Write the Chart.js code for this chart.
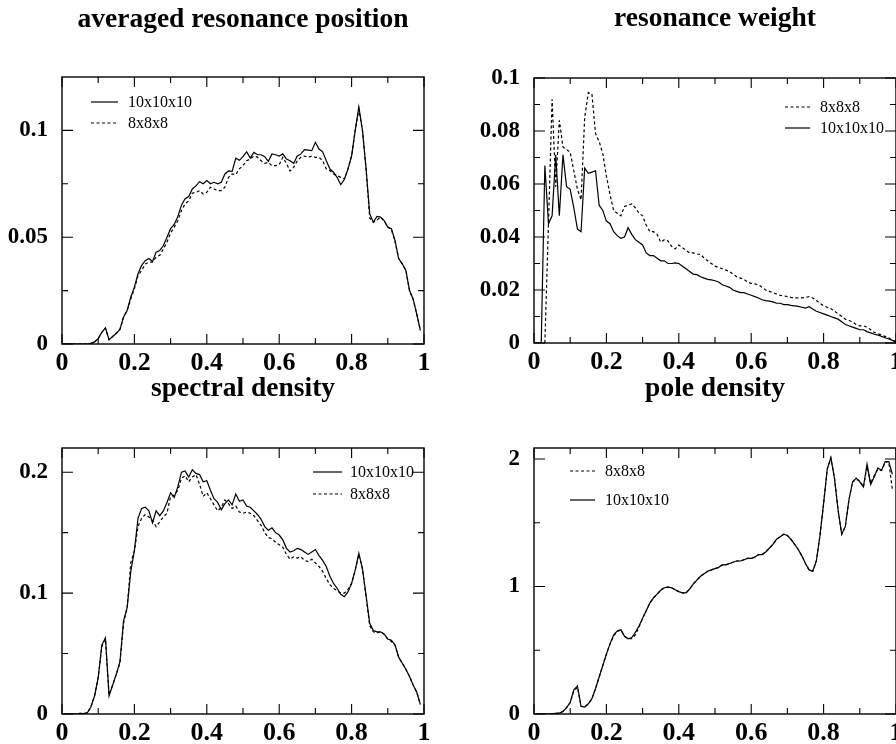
<!DOCTYPE html>
<html lang="en">
<head>
<meta charset="UTF-8">
<title>Resonance panels</title>
<script src="https://cdn.jsdelivr.net/npm/chart.js@4.4.1/dist/chart.umd.min.js"></script>
<style>
    html, body { margin: 0; padding: 0; background: #fff; }
    body { width: 896px; height: 744px; overflow: hidden; position: relative; }
    .panel { position: absolute; }
</style>
</head>
<body>
<div class="panel" style="left:0;top:0"><canvas id="c1" width="448" height="372"></canvas></div>
<div class="panel" style="left:448px;top:0"><canvas id="c2" width="460" height="372"></canvas></div>
<div class="panel" style="left:0;top:372px"><canvas id="c3" width="448" height="372"></canvas></div>
<div class="panel" style="left:448px;top:372px"><canvas id="c4" width="460" height="372"></canvas></div>

<script>
    // ---- data (x grid is 0, 0.01, ..., 1) ----
    const xs = [0,0.01,0.02,0.03,0.04,0.05,0.06,0.07,0.08,0.09,
        0.1,0.11,0.12,0.13,0.14,0.15,0.16,0.17,0.18,0.19,
        0.2,0.21,0.22,0.23,0.24,0.25,0.26,0.27,0.28,0.29,
        0.3,0.31,0.32,0.33,0.34,0.35,0.36,0.37,0.38,0.39,
        0.4,0.41,0.42,0.43,0.44,0.45,0.46,0.47,0.48,0.49,
        0.5,0.51,0.52,0.53,0.54,0.55,0.56,0.57,0.58,0.59,
        0.6,0.61,0.62,0.63,0.64,0.65,0.66,0.67,0.68,0.69,
        0.7,0.71,0.72,0.73,0.74,0.75,0.76,0.77,0.78,0.79,
        0.8,0.81,0.82,0.83,0.84,0.85,0.86,0.87,0.88,0.89,
        0.9,0.91,0.92,0.93,0.94,0.95,0.96,0.97,0.98,0.99,1];

    // averaged resonance position
    const pos10 = [0,0,0,0,0,0,0,0,0.0003,0.001,
        0.0025,0.0055,0.0075,0.002,0.0035,0.005,0.0068,0.0126,0.0157,0.022,
        0.0266,0.0329,0.0368,0.039,0.040,0.0386,0.043,0.0438,0.046,0.050,
        0.054,0.056,0.0597,0.065,0.068,0.069,0.0726,0.074,0.076,0.075,
        0.0765,0.075,0.0757,0.075,0.0757,0.0796,0.081,0.0808,0.087,0.086,
        0.0877,0.090,0.087,0.0897,0.0886,0.0886,0.0877,0.0855,0.089,0.0886,
        0.088,0.089,0.0866,0.0858,0.0846,0.088,0.089,0.091,0.0908,0.0905,
        0.0944,0.0913,0.090,0.0858,0.082,0.0804,0.078,0.0746,0.077,0.082,
        0.088,0.100,0.111,0.100,0.082,0.061,0.057,0.0597,0.0594,0.0578,
        0.0547,0.054,0.0484,0.040,0.0375,0.0344,0.025,0.021,0.014,0.0064,null];
    const pos8 = [0,0,0,0,0,0,0,0,0.0003,0.001,
        0.0025,0.0055,0.0075,0.002,0.0035,0.005,0.0068,0.0126,0.0157,0.021,
        0.026,0.032,0.0344,0.0375,0.0383,0.0383,0.0407,0.0415,0.0445,0.0477,
        0.052,0.0547,0.0578,0.0625,0.0656,0.067,0.0706,0.071,0.0718,0.0702,
        0.071,0.0734,0.0726,0.0718,0.0718,0.0734,0.078,0.0796,0.0793,0.082,
        0.0835,0.0858,0.0866,0.088,0.0875,0.0858,0.0846,0.085,0.0835,0.0835,
        0.084,0.0874,0.0846,0.081,0.0827,0.0858,0.0874,0.088,0.0874,0.088,
        0.0874,0.0874,0.0858,0.082,0.0812,0.0796,0.0788,0.078,0.0773,0.082,
        0.088,0.100,0.110,0.100,0.082,0.059,0.057,0.058,0.0594,0.0575,
        0.0547,0.0535,0.048,0.040,0.0375,0.0344,0.025,0.021,0.014,0.0064,null];

    // resonance weight
    const w8 = [0,0,0,0,0.045,0.092,0.059,0.084,0.074,0.073,
        0.072,0.065,0.058,0.054,0.085,0.0945,0.094,0.079,0.076,0.0715,
        0.063,0.056,0.050,0.049,0.048,0.0515,0.052,0.0525,0.051,0.049,
        0.048,0.0445,0.042,0.042,0.041,0.038,0.039,0.0385,0.0365,0.0355,
        0.037,0.036,0.035,0.034,0.034,0.0335,0.0335,0.032,0.031,0.030,
        0.029,0.0285,0.028,0.0275,0.027,0.026,0.025,0.0245,0.024,0.023,
        0.0225,0.0223,0.022,0.021,0.020,0.0195,0.019,0.0185,0.018,0.0178,
        0.0175,0.0172,0.017,0.017,0.017,0.0172,0.0175,0.017,0.016,0.015,
        0.014,0.0135,0.013,0.012,0.011,0.010,0.009,0.0085,0.008,0.007,
        0.0065,0.0065,0.006,0.005,0.004,0.0035,0.003,0.0025,0.002,0.001,0.0005];
    const w10 = [0,0,0,0.067,0.045,0.048,0.071,0.048,0.071,0.059,
        0.058,0.051,0.043,0.042,0.066,0.064,0.0645,0.065,0.052,0.050,
        0.046,0.045,0.042,0.0405,0.0395,0.040,0.0435,0.041,0.039,0.038,
        0.037,0.034,0.033,0.033,0.032,0.031,0.031,0.030,0.030,0.0302,
        0.030,0.029,0.028,0.027,0.026,0.0258,0.025,0.0245,0.024,0.0238,
        0.0235,0.023,0.022,0.0215,0.021,0.020,0.0195,0.019,0.019,0.0185,
        0.018,0.0175,0.017,0.0163,0.016,0.0158,0.0155,0.015,0.015,0.0145,
        0.0145,0.0142,0.014,0.0138,0.0135,0.0132,0.0137,0.0128,0.012,0.0115,
        0.011,0.0105,0.010,0.0095,0.009,0.008,0.007,0.0065,0.006,0.0055,
        0.005,0.005,0.0043,0.0038,0.0033,0.003,0.0025,0.002,0.0015,0.001,0.0005];

    // spectral density
    const sd10 = [0,0,0,0,0,0.0005,0.0003,0.001,0.006,0.015,
        0.030,0.057,0.063,0.015,0.024,0.033,0.043,0.077,0.088,0.118,
        0.135,0.162,0.170,0.171,0.168,0.158,0.168,0.164,0.168,0.175,
        0.183,0.179,0.188,0.200,0.201,0.196,0.202,0.199,0.198,0.192,
        0.193,0.185,0.178,0.175,0.169,0.174,0.177,0.173,0.182,0.176,
        0.177,0.172,0.171,0.168,0.165,0.161,0.155,0.152,0.154,0.150,
        0.148,0.144,0.137,0.134,0.135,0.137,0.136,0.134,0.132,0.134,
        0.136,0.131,0.127,0.122,0.114,0.108,0.104,0.099,0.097,0.101,
        0.108,0.119,0.133,0.120,0.098,0.075,0.069,0.068,0.068,0.066,
        0.062,0.061,0.057,0.047,0.042,0.037,0.031,0.024,0.018,0.008,null];
    const sd8 = [0,0,0,0,0,0.0005,0.0003,0.001,0.006,0.015,
        0.030,0.056,0.062,0.016,0.024,0.033,0.042,0.075,0.088,0.125,
        0.135,0.155,0.162,0.165,0.163,0.160,0.155,0.159,0.163,0.166,
        0.180,0.181,0.185,0.195,0.197,0.192,0.196,0.198,0.190,0.180,
        0.183,0.178,0.173,0.168,0.171,0.177,0.174,0.170,0.172,0.167,
        0.166,0.167,0.166,0.164,0.160,0.156,0.150,0.146,0.145,0.142,
        0.140,0.138,0.132,0.128,0.130,0.129,0.130,0.127,0.126,0.128,
        0.125,0.122,0.118,0.112,0.107,0.104,0.102,0.100,0.100,0.103,
        0.108,0.119,0.132,0.120,0.097,0.073,0.068,0.067,0.068,0.066,
        0.062,0.060,0.057,0.047,0.042,0.037,0.031,0.024,0.018,0.008,null];

    // pole density
    const pd8 = [0,0,0,0,0,0.003,0.005,0.007,0.02,0.05,
        0.09,0.18,0.21,0.06,0.055,0.08,0.12,0.20,0.29,0.38,
        0.47,0.55,0.61,0.65,0.66,0.61,0.59,0.59,0.62,0.68,
        0.75,0.81,0.87,0.91,0.94,0.97,0.99,0.995,0.99,0.975,
        0.96,0.95,0.95,0.98,1.02,1.05,1.08,1.10,1.12,1.13,
        1.14,1.15,1.17,1.17,1.18,1.19,1.20,1.20,1.21,1.22,
        1.22,1.23,1.25,1.25,1.27,1.30,1.33,1.37,1.39,1.41,
        1.40,1.37,1.33,1.29,1.24,1.18,1.13,1.12,1.20,1.40,
        1.65,1.92,2.01,1.85,1.60,1.41,1.47,1.68,1.82,1.84,
        1.83,1.78,1.94,1.81,1.87,1.92,1.91,1.97,1.98,1.76,null];
    const pd10 = [0,0,0,0,0,0.003,0.005,0.007,0.02,0.05,
        0.09,0.19,0.22,0.06,0.055,0.08,0.12,0.20,0.29,0.38,
        0.47,0.55,0.62,0.65,0.66,0.61,0.59,0.60,0.64,0.69,
        0.75,0.81,0.87,0.91,0.94,0.97,0.99,0.995,0.99,0.975,
        0.96,0.95,0.95,0.98,1.02,1.05,1.08,1.10,1.12,1.13,
        1.14,1.15,1.17,1.17,1.18,1.19,1.20,1.20,1.21,1.22,
        1.22,1.23,1.25,1.25,1.27,1.30,1.33,1.37,1.39,1.41,
        1.40,1.37,1.33,1.29,1.24,1.18,1.13,1.12,1.20,1.40,
        1.65,1.92,2.01,1.85,1.60,1.41,1.47,1.68,1.82,1.85,
        1.82,1.78,1.96,1.80,1.86,1.93,1.91,1.98,1.98,1.88,null];

    const titles = ['averaged resonance position', 'resonance weight', 'spectral density', 'pole density'];
    const seriesNames = ['10x10x10', '8x8x8'];

    // tick values and labels
    const xTickVals = [0, 0.2, 0.4, 0.6, 0.8, 1];
    const xTickLabels = ['0', '0.2', '0.4', '0.6', '0.8', '1'];
    const xMinorVals = [0.1, 0.3, 0.5, 0.7, 0.9];
    const y1TickVals = [0, 0.05, 0.1];
    const y1TickLabels = ['0', '0.05', '0.1'];
    const y1MinorVals = [0.025, 0.075];
    const y2TickVals = [0, 0.02, 0.04, 0.06, 0.08, 0.1];
    const y2TickLabels = ['0', '0.02', '0.04', '0.06', '0.08', '0.1'];
    const y2MinorVals = [0.01, 0.03, 0.05, 0.07, 0.09];
    const y3TickVals = [0, 0.1, 0.2];
    const y3TickLabels = ['0', '0.1', '0.2'];
    const y3MinorVals = [0.05, 0.15];
    const y4TickVals = [0, 1, 2];
    const y4TickLabels = ['0', '1', '2'];
    const y4MinorVals = [0.5, 1.5];

    Chart.defaults.font.family = '"Liberation Serif", "Times New Roman", serif';
    Chart.defaults.color = '#000';

    function toPoints(arr) {
        return xs.map((x, i) => ({x: x, y: arr[i]}));
    }

    function line(label, arr, dashed) {
        return {
            label: label,
            data: toPoints(arr),
            borderColor: '#000',
            borderWidth: 1.2,
            borderDash: dashed ? [3, 2.5] : [],
            pointRadius: 0,
            tension: 0,
            fill: false
        };
    }

    // frame, inward ticks, title and legend
    const framePlugin = {
        id: 'frame',
        afterDraw(chart, args, o) {
            const ctx = chart.ctx;
            const a = chart.chartArea;
            const sx = chart.scales.x, sy = chart.scales.y;
            ctx.save();
            ctx.strokeStyle = '#000';
            ctx.lineWidth = 1.4;
            ctx.strokeRect(a.left, a.top, a.right - a.left, a.bottom - a.top);

            ctx.lineWidth = 1.1;
            ctx.beginPath();
            const tickX = (v, len) => {
                const p = sx.getPixelForValue(v);
                ctx.moveTo(p, a.bottom); ctx.lineTo(p, a.bottom - len);
                ctx.moveTo(p, a.top); ctx.lineTo(p, a.top + len);
            };
            const tickY = (v, len) => {
                const p = sy.getPixelForValue(v);
                ctx.moveTo(a.left, p); ctx.lineTo(a.left + len, p);
                ctx.moveTo(a.right, p); ctx.lineTo(a.right - len, p);
            };
            xTickVals.forEach(v => tickX(v, 10));
            xMinorVals.forEach(v => tickX(v, 6));
            o.yTicks.forEach(v => tickY(v, 11));
            o.yMinor.forEach(v => tickY(v, 6));
            ctx.stroke();

            // title
            ctx.fillStyle = '#000';
            ctx.font = 'bold 27.5px "Liberation Serif", "Times New Roman", serif';
            ctx.textAlign = 'center';
            ctx.textBaseline = 'alphabetic';
            ctx.fillText(o.title, (a.left + a.right) / 2, o.titleY);

            // legend
            ctx.font = '16px "Liberation Serif", "Times New Roman", serif';
            ctx.textAlign = 'left';
            ctx.textBaseline = 'middle';
            ctx.lineWidth = 1.2;
            chart.data.datasets.forEach((ds, i) => {
                const y = o.legend.ys[i];
                ctx.beginPath();
                ctx.setLineDash(ds.borderDash);
                ctx.moveTo(o.legend.x1, y);
                ctx.lineTo(o.legend.x2, y);
                ctx.stroke();
                ctx.setLineDash([]);
                ctx.fillText(ds.label, o.legend.tx, y + 1);
            });
            ctx.restore();
        }
    };

    function makeChart(id, cfg) {
        const canvas = document.getElementById(id);
        const W = canvas.width, H = canvas.height;
        return new Chart(canvas, {
            type: 'line',
            data: {datasets: cfg.datasets},
            options: {
                responsive: false,
                animation: false,
                devicePixelRatio: 1,
                layout: {padding: {top: cfg.area.top, right: W - cfg.area.right, left: 0, bottom: 0}},
                plugins: {
                    legend: {display: false},
                    tooltip: {enabled: false},
                    frame: {
                        title: cfg.title, titleY: cfg.titleY,
                        yTicks: cfg.yTickVals, yMinor: cfg.yMinorVals,
                        legend: cfg.legend
                    }
                },
                scales: {
                    x: {
                        type: 'linear', min: 0, max: 1,
                        grid: {display: false, drawTicks: false},
                        border: {display: false},
                        afterBuildTicks: s => { s.ticks = xTickVals.map(v => ({value: v})); },
                        afterFit: s => { s.height = H - cfg.area.bottom; s.paddingLeft = 0; s.paddingRight = 0; },
                        ticks: {
                            autoSkip: false, maxRotation: 0, padding: 4,
                            font: {size: 26, weight: 'bold'},
                            callback: (v, i) => xTickLabels[i]
                        }
                    },
                    y: {
                        type: 'linear', min: 0, max: cfg.yMax,
                        grid: {display: false, drawTicks: false},
                        border: {display: false},
                        afterBuildTicks: s => { s.ticks = cfg.yTickVals.map(v => ({value: v})); },
                        afterFit: s => { s.width = cfg.area.left; s.paddingTop = 0; s.paddingBottom = 0; },
                        ticks: {
                            autoSkip: false, padding: 14,
                            font: {size: 23, weight: 'bold'},
                            callback: (v, i) => cfg.yTickLabels[i]
                        }
                    }
                }
            },
            plugins: [framePlugin]
        });
    }

    makeChart('c1', {
        datasets: [line(seriesNames[0], pos10, false), line(seriesNames[1], pos8, true)],
        area: {left: 62, top: 77, right: 424, bottom: 344},
        yMax: 0.125, yTickVals: y1TickVals, yTickLabels: y1TickLabels, yMinorVals: y1MinorVals,
        title: titles[0], titleY: 27,
        legend: {x1: 91, x2: 118, tx: 128, ys: [102, 123]}
    });

    makeChart('c2', {
        datasets: [line(seriesNames[1], w8, true), line(seriesNames[0], w10, false)],
        area: {left: 86, top: 78, right: 448, bottom: 343},
        yMax: 0.1, yTickVals: y2TickVals, yTickLabels: y2TickLabels, yMinorVals: y2MinorVals,
        title: titles[1], titleY: 26,
        legend: {x1: 337, x2: 362, tx: 372, ys: [107, 128]}
    });

    makeChart('c3', {
        datasets: [line(seriesNames[0], sd10, false), line(seriesNames[1], sd8, true)],
        area: {left: 62, top: 76, right: 424, bottom: 342},
        yMax: 0.22, yTickVals: y3TickVals, yTickLabels: y3TickLabels, yMinorVals: y3MinorVals,
        title: titles[2], titleY: 24,
        legend: {x1: 313, x2: 342, tx: 350, ys: [100, 122]}
    });

    makeChart('c4', {
        datasets: [line(seriesNames[1], pd8, true), line(seriesNames[0], pd10, false)],
        area: {left: 86, top: 76, right: 448, bottom: 342},
        yMax: 2.086, yTickVals: y4TickVals, yTickLabels: y4TickLabels, yMinorVals: y4MinorVals,
        title: titles[3], titleY: 24,
        legend: {x1: 122, x2: 147, tx: 157, ys: [99, 128]}
    });
</script>
</body>
</html>
